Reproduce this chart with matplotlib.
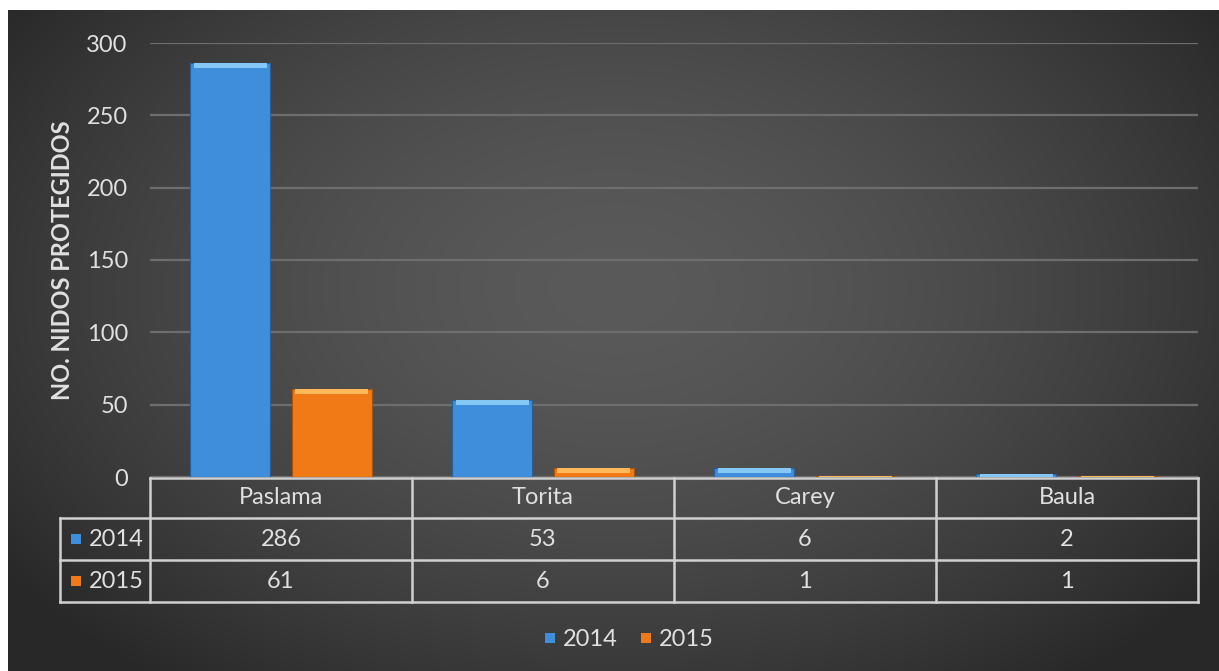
import numpy as np
import matplotlib
matplotlib.use("Agg")
import matplotlib.pyplot as plt
from matplotlib.lines import Line2D

# ---- data ----
categories = ["Paslama", "Torita", "Carey", "Baula"]
series_names = ["2014", "2015"]
values_2014 = [286, 53, 6, 2]
values_2015 = [61, 6, 1, 1]
y_ticks = [0, 50, 100, 150, 200, 250, 300]
y_label = "NO. NIDOS PROTEGIDOS"

plt.rcParams['font.family'] = ['Lato', 'DejaVu Sans']

W, H = 1219, 671
FS = 17
TXT = "#e0e0e0"
fig = plt.figure(figsize=(W / 100, H / 100), dpi=100, facecolor="white")

# background gradient panel
bg = fig.add_axes([8 / W, 0, 1 - 8 / W, (H - 10) / H], zorder=-10)
ny, nx = 300, 600
yy, xx = np.mgrid[0:ny, 0:nx]
cx, cy = nx * 0.5, ny * 0.42
r = np.sqrt(((xx - cx) / (nx * 0.62)) ** 2 + ((yy - cy) / (ny * 0.75)) ** 2)
r = np.clip(r, 0, 1)
c_center, c_edge = 90 / 255, 40 / 255
val = c_center - (c_center - c_edge) * r ** 1.6
img = np.dstack([val, val, val])
bg.imshow(img, aspect="auto", extent=[0, 1, 0, 1], origin="upper")
bg.set_axis_off()

# main axes
L, R, T, B = 150, 1198, 43, 477
ax = fig.add_axes([L / W, 1 - B / H, (R - L) / W, (B - T) / H])
ax.set_facecolor("none")
x = np.arange(len(categories))
w = 0.305
off = 0.193
blue, blue_hi = "#3f8edc", "#86c8f5"
orange, orange_hi = "#f07b16", "#ffb85a"

ax.bar(x - off, values_2014, w, color=blue, edgecolor="#2a5f99", linewidth=0.8, zorder=3)
ax.bar(x + off, values_2015, w, color=orange, edgecolor="#a9520c", linewidth=0.8, zorder=3)
# bevel highlight on bar tops
hi = 3.5
v14 = np.array(values_2014, dtype=float)
v15 = np.array(values_2015, dtype=float)
ax.bar(x - off, np.minimum(v14, hi), w * 0.92, bottom=v14 - np.minimum(v14, hi), color=blue_hi, linewidth=0, zorder=4)
ax.bar(x + off, np.minimum(v15, hi), w * 0.92, bottom=v15 - np.minimum(v15, hi), color=orange_hi, linewidth=0, zorder=4)

ax.set_xlim(-0.5, len(categories) - 0.5)
ax.set_ylim(0, 300)
ax.set_yticks(y_ticks)
ax.set_xticks([])
ax.yaxis.grid(True, color="#6e6e6e", linewidth=1.6, zorder=0)
ax.set_axisbelow(True)
for s in ax.spines.values():
    s.set_visible(False)
ax.tick_params(axis="y", length=0, pad=16, labelsize=FS, labelcolor=TXT)

# data table overlay in pixel coordinates
tab = fig.add_axes([0, 0, 1, 1], zorder=5)
tab.set_xlim(0, W)
tab.set_ylim(H, 0)
tab.set_axis_off()
tab.patch.set_alpha(0)

tab.text(63, 260, y_label, rotation=90, ha="center", va="center",
         fontsize=FS, fontweight="bold", color=TXT)

fig.canvas.draw()
def px_of(xd):
    return ax.transData.transform((xd, 0))[0]

col_edges = [px_of(i - 0.5) for i in range(len(categories) + 1)]
row_y = [478, 518, 560, 602]
left_label = 60
lc, lw = "#d0d0d0", 1.8
# horizontal lines
tab.plot([col_edges[0], col_edges[-1]], [row_y[0], row_y[0]], color=lc, lw=lw)
for yv in row_y[1:]:
    tab.plot([left_label, col_edges[-1]], [yv, yv], color=lc, lw=lw)
# vertical lines
for xe in col_edges:
    tab.plot([xe, xe], [row_y[0], row_y[-1]], color=lc, lw=lw)
tab.plot([left_label, left_label], [row_y[1], row_y[-1]], color=lc, lw=lw)

txt_kw = dict(color=TXT, fontsize=FS, ha="center", va="center")
for i, c in enumerate(categories):
    xc = (col_edges[i] + col_edges[i + 1]) / 2
    tab.text(xc, (row_y[0] + row_y[1]) / 2, c, **txt_kw)
    tab.text(xc, (row_y[1] + row_y[2]) / 2, str(values_2014[i]), **txt_kw)
    tab.text(xc, (row_y[2] + row_y[3]) / 2, str(values_2015[i]), **txt_kw)
for j, (name, col) in enumerate(zip(series_names, [blue, orange])):
    yc = (row_y[j + 1] + row_y[j + 2]) / 2
    tab.plot([76], [yc], marker="s", markersize=7.5, color=col, markeredgewidth=0)
    tab.text(116, yc, name, **txt_kw)

# legend
handles = [Line2D([], [], marker="s", linestyle="none", markersize=7.5, color=blue, markeredgewidth=0),
           Line2D([], [], marker="s", linestyle="none", markersize=7.5, color=orange, markeredgewidth=0)]
leg = fig.legend(handles, series_names, loc="center", bbox_to_anchor=(628 / W, 1 - 640 / H),
                 ncol=2, frameon=False, fontsize=FS, handlelength=0.6, handletextpad=0.25,
                 columnspacing=0.9, labelcolor=TXT)

fig.savefig("out.png", dpi=100, facecolor=fig.get_facecolor())
